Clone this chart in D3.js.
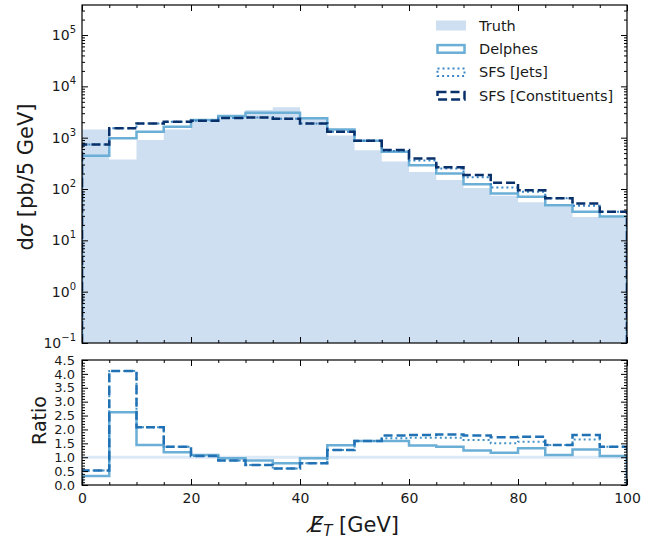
<!DOCTYPE html>
<html>
<head>
<meta charset="utf-8">
<script src="https://cdn.jsdelivr.net/npm/d3@7"></script>
<style>
  body { margin: 0; background: #fff; }
  svg text { font-family: "DejaVu Sans", sans-serif; fill: #1a1a1a; }
</style>
</head>
<body>
<div id="chart"></div>
<script>
// MET histogram (5 GeV bins) + ratio to truth

const binEdges = [0, 5, 10, 15, 20, 25, 30, 35, 40, 45, 50, 55, 60, 65, 70, 75, 80, 85, 90, 95, 100];

// d sigma per bin [pb/5 GeV]
const truth        = [1450, 375, 900, 1450, 2080, 2700, 3450, 3900, 2450, 1100, 570, 345, 215, 150, 105, 74, 55, 46, 28.5, 27.5];
const delphes      = [445, 970, 1300, 1630, 2200, 2640, 3060, 3060, 2380, 1450, 870, 530, 292, 200, 124, 82, 71, 48.5, 36, 29];
const sfsJets      = [740, 1520, 1900, 2040, 2130, 2410, 2480, 2340, 1900, 1300, 870, 550, 360, 250, 170, 107, 88, 66, 47, 36];
const sfsConst     = [740, 1520, 1900, 2040, 2130, 2410, 2480, 2340, 1900, 1300, 870, 573, 395, 264, 187, 132, 95, 66, 52, 36];

// ratio to truth
const ratioDelphes = [0.32, 2.62, 1.44, 1.18, 1.08, 0.96, 0.88, 0.78, 0.96, 1.43, 1.58, 1.58, 1.42, 1.38, 1.24, 1.16, 1.32, 1.08, 1.28, 1.04];
const ratioJets    = [0.52, 4.10, 2.08, 1.38, 1.04, 0.88, 0.72, 0.59, 0.78, 1.26, 1.58, 1.68, 1.70, 1.70, 1.62, 1.50, 1.56, 1.44, 1.64, 1.38];
const ratioConst   = [0.52, 4.10, 2.08, 1.38, 1.04, 0.88, 0.72, 0.59, 0.78, 1.26, 1.58, 1.78, 1.80, 1.82, 1.78, 1.72, 1.74, 1.44, 1.80, 1.38];

const xTicks = [0, 20, 40, 60, 80, 100];
const logTicks = [-1, 0, 1, 2, 3, 4, 5];
const ratioTicks = [0, 0.5, 1, 1.5, 2, 2.5, 3, 3.5, 4, 4.5];

const COL = {
  truth: '#cddff0',
  delphes: '#6baed6',
  jets: '#3a87c8',
  cons: '#08306b',
  ratioJets: '#4292c6',
  ratioCons: '#2171b5',
  unity: '#dce9f6'
};

const W = 659, H = 541;
const left = 82, right = 627;
const mainBox = { top: 5, bottom: 343 };
const ratioBox = { top: 360, bottom: 485 };

const svg = d3.select('#chart').append('svg')
  .attr('width', W).attr('height', H)
  .attr('viewBox', `0 0 ${W} ${H}`);

// Scales
const x = d3.scaleLinear().domain([0, 100]).range([left, right]);
const y = d3.scaleLog().domain([0.1, Math.pow(10, 5.585)]).range([mainBox.bottom, mainBox.top]);
const yr = d3.scaleLinear().domain([0, 4.5]).range([ratioBox.bottom, ratioBox.top]);

// clip paths
const defs = svg.append('defs');
defs.append('clipPath').attr('id', 'clipMain').append('rect')
  .attr('x', left).attr('y', mainBox.top)
  .attr('width', right - left).attr('height', mainBox.bottom - mainBox.top);
defs.append('clipPath').attr('id', 'clipRatio').append('rect')
  .attr('x', left).attr('y', ratioBox.top)
  .attr('width', right - left).attr('height', ratioBox.bottom - ratioBox.top);

// step points, dropping to the floor at both ends (like histtype='step')
function stepPoints(vals, floor) {
  const pts = [[binEdges[0], floor]];
  vals.forEach((v, i) => pts.push([binEdges[i], v]));
  pts.push([binEdges[binEdges.length - 1], vals[vals.length - 1]]);
  pts.push([binEdges[binEdges.length - 1], floor]);
  return pts;
}

const lineMain = d3.line().x(d => x(d[0])).y(d => y(d[1])).curve(d3.curveStepAfter);
const lineRatio = d3.line().x(d => x(d[0])).y(d => yr(d[1])).curve(d3.curveStepAfter);

// ---- main panel ----
const gMain = svg.append('g').attr('clip-path', 'url(#clipMain)');

const truthPts = truth.map((v, i) => [binEdges[i], v]).concat([[100, truth[truth.length - 1]]]);
gMain.append('path')
  .attr('d', d3.area().x(d => x(d[0])).y0(mainBox.bottom).y1(d => y(d[1])).curve(d3.curveStepAfter)(truthPts))
  .attr('fill', COL.truth);

gMain.append('path')
  .attr('d', lineMain(stepPoints(delphes, 0.1)))
  .attr('fill', 'none').attr('stroke', COL.delphes).attr('stroke-width', 2.5);

gMain.append('path')
  .attr('d', lineMain(stepPoints(sfsJets, 0.1)))
  .attr('fill', 'none').attr('stroke', COL.jets).attr('stroke-width', 2)
  .attr('stroke-dasharray', '2,3');

gMain.append('path')
  .attr('d', lineMain(stepPoints(sfsConst, 0.1)))
  .attr('fill', 'none').attr('stroke', COL.cons).attr('stroke-width', 2.5)
  .attr('stroke-dasharray', '9,4');

// ---- ratio panel ----
const gRatio = svg.append('g').attr('clip-path', 'url(#clipRatio)');

gRatio.append('line')
  .attr('x1', x(0)).attr('x2', x(100))
  .attr('y1', yr(1)).attr('y2', yr(1))
  .attr('stroke', COL.unity).attr('stroke-width', 3);

gRatio.append('path')
  .attr('d', lineRatio(stepPoints(ratioDelphes, 0)))
  .attr('fill', 'none').attr('stroke', COL.delphes).attr('stroke-width', 2.5);

gRatio.append('path')
  .attr('d', lineRatio(stepPoints(ratioJets, 0)))
  .attr('fill', 'none').attr('stroke', COL.ratioJets).attr('stroke-width', 2)
  .attr('stroke-dasharray', '2,3');

gRatio.append('path')
  .attr('d', lineRatio(stepPoints(ratioConst, 0)))
  .attr('fill', 'none').attr('stroke', COL.ratioCons).attr('stroke-width', 2.5)
  .attr('stroke-dasharray', '9,4');

// ---- axes / ticks (all pointing in) ----
const xMinor = d3.range(0, 101, 5).filter(v => v % 20 !== 0);
const logMinor = [];
logTicks.slice(0, -1).forEach(e => { for (let k = 2; k <= 9; k++) logMinor.push(k * Math.pow(10, e)); });
for (let k = 2; k <= 3; k++) logMinor.push(k * 1e5);
const ratioMinor = d3.range(0, 45).map(i => i / 10).filter(v => Math.abs(v * 2 - Math.round(v * 2)) > 1e-6);

function tickGroup(axis, transform, fontSize = 14) {
  const g = svg.append('g').attr('transform', transform).call(axis);
  g.select('.domain').remove();
  g.selectAll('.tick line').attr('stroke', '#000').attr('stroke-width', 1);
  g.selectAll('text').style('font-family', '"DejaVu Sans", sans-serif').style('font-size', fontSize + 'px').attr('fill', '#1a1a1a');
  return g;
}

// x ticks on top & bottom of both panels (no labels)
[[d3.axisBottom, mainBox.bottom], [d3.axisTop, mainBox.top], [d3.axisBottom, ratioBox.bottom], [d3.axisTop, ratioBox.top]]
  .forEach(([ax, yy]) => {
    tickGroup(ax(x).tickValues(xTicks).tickSize(-6).tickFormat(''), `translate(0,${yy})`);
    tickGroup(ax(x).tickValues(xMinor).tickSize(-3).tickFormat(''), `translate(0,${yy})`);
  });

// x labels on the ratio panel
tickGroup(d3.axisBottom(x).tickValues(xTicks).tickSize(-6).tickPadding(8).tickFormat(d3.format('d')),
  `translate(0,${ratioBox.bottom})`);

// main y (log)
const yLeft = tickGroup(d3.axisLeft(y).tickValues(logTicks.map(e => Math.pow(10, e))).tickSize(-6).tickPadding(6),
  `translate(${left},0)`);
yLeft.selectAll('.tick text').each(function (d) {
  const t = d3.select(this);
  const e = Math.round(Math.log10(d));
  t.text('');
  t.append('tspan').text('10');
  t.append('tspan').attr('dy', '-7').style('font-size', '10px').text(e < 0 ? '\u2212' + (-e) : String(e));
});
tickGroup(d3.axisLeft(y).tickValues(logMinor).tickSize(-3).tickFormat(''), `translate(${left},0)`);
tickGroup(d3.axisRight(y).tickValues(logTicks.map(e => Math.pow(10, e))).tickSize(-6).tickFormat(''), `translate(${right},0)`);
tickGroup(d3.axisRight(y).tickValues(logMinor).tickSize(-3).tickFormat(''), `translate(${right},0)`);

// ratio y (labels packed tightly, as in the original)
tickGroup(d3.axisLeft(yr).tickValues(ratioTicks).tickSize(-6).tickPadding(7).tickFormat(d3.format('.1f')),
  `translate(${left},0)`, 13);
tickGroup(d3.axisLeft(yr).tickValues(ratioMinor).tickSize(-3).tickFormat(''), `translate(${left},0)`);
tickGroup(d3.axisRight(yr).tickValues(ratioTicks).tickSize(-6).tickFormat(''), `translate(${right},0)`);
tickGroup(d3.axisRight(yr).tickValues(ratioMinor).tickSize(-3).tickFormat(''), `translate(${right},0)`);

// spines
[mainBox, ratioBox].forEach(b => {
  svg.append('rect')
    .attr('x', left).attr('y', b.top)
    .attr('width', right - left).attr('height', b.bottom - b.top)
    .attr('fill', 'none').attr('stroke', '#000').attr('stroke-width', 1.2);
});

// ---- axis titles ----
const yTitle = svg.append('text')
  .attr('transform', `translate(33,${(mainBox.top + mainBox.bottom) / 2 + 3}) rotate(-90)`)
  .attr('text-anchor', 'middle')
  .style('font-size', '21px');
yTitle.append('tspan').text('d');
yTitle.append('tspan').style('font-style', 'italic').text('\u03c3');
yTitle.append('tspan').text(' [pb/5 GeV]');

svg.append('text')
  .attr('transform', `translate(46,${(ratioBox.top + ratioBox.bottom) / 2 - 2}) rotate(-90)`)
  .attr('text-anchor', 'middle')
  .style('font-size', '19px')
  .text('Ratio');

const xTitle = svg.append('text')
  .attr('x', (left + right) / 2)
  .attr('y', 532)
  .attr('text-anchor', 'middle')
  .style('font-size', '21px');
xTitle.append('tspan').style('font-style', 'italic').text('E\u0338');
xTitle.append('tspan').style('font-style', 'italic').style('font-size', '15px').attr('dy', 4).text('T');
xTitle.append('tspan').attr('dy', -4).text(' [GeV]');

// ---- legend ----
const legendItems = [
  { label: 'Truth', kind: 'fill', color: COL.truth },
  { label: 'Delphes', kind: 'line', color: COL.delphes, width: 2.5, dash: null },
  { label: 'SFS [Jets]', kind: 'line', color: COL.jets, width: 2, dash: '2,3' },
  { label: 'SFS [Constituents]', kind: 'line', color: COL.cons, width: 2.5, dash: '9,4' }
];

const legend = svg.append('g').attr('transform', 'translate(436,25.5)');
const rows = legend.selectAll('g.row').data(legendItems).join('g')
  .attr('class', 'row')
  .attr('transform', (d, i) => `translate(0,${i * 23.4})`);

rows.each(function (d) {
  const g = d3.select(this);
  if (d.kind === 'fill') {
    g.append('rect').attr('x', 0).attr('y', -5).attr('width', 30).attr('height', 10).attr('fill', d.color);
  } else {
    g.append('rect').attr('x', 1.5).attr('y', -3.8).attr('width', 27).attr('height', 7.6)
      .attr('fill', 'none').attr('stroke', d.color).attr('stroke-width', d.width)
      .attr('stroke-dasharray', d.dash);
  }
  g.append('text').attr('x', 43).attr('dy', '0.35em').style('font-size', '14.5px').text(d.label);
});
</script>
</body>
</html>
